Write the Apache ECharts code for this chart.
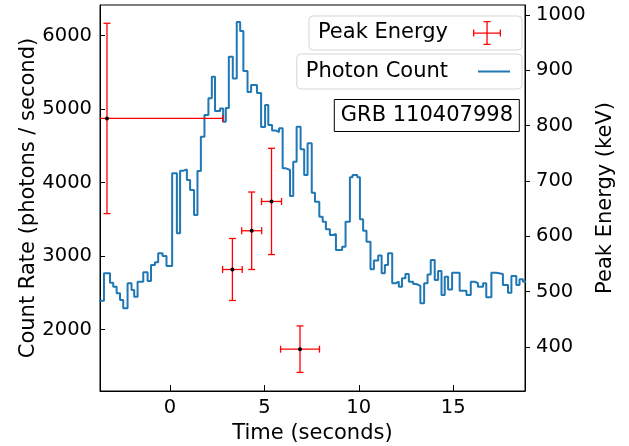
<!DOCTYPE html>
<html>
<head>
<meta charset="utf-8">
<script src="https://cdn.jsdelivr.net/npm/echarts@6/dist/echarts.min.js"></script>
<style>
html,body{margin:0;padding:0;background:#fff;}
#chart{width:629px;height:446px;}
</style>
</head>
<body>
<div id="chart"></div>
<script>
// Light curve (step) : start time of each step (s) and count rate (photons/s)
var stepStart = [-3.9, -3.49, -3.17, -3.00, -2.82, -2.64, -2.47, -2.24, -2.03, -1.89, -1.71, -1.41, -1.18, -1.00, -0.79, -0.62, -0.39, -0.18,
  0.12, 0.37, 0.54, 0.72, 0.90, 1.07, 1.28, 1.46, 1.64, 1.83, 2.04, 2.22, 2.39, 2.66, 2.82, 2.96, 3.12, 3.33, 3.54, 3.72, 3.89,
  4.11, 4.30, 4.61, 4.83, 5.04, 5.21, 5.41, 5.60, 5.78, 5.97, 6.15, 6.36, 6.53, 6.71, 6.92, 7.11, 7.29, 7.51, 7.68, 7.91,
  8.09, 8.26, 8.47, 8.65, 8.79, 9.12, 9.30, 9.53, 9.67, 9.92, 10.06, 10.23, 10.41, 10.62, 10.80, 11.03, 11.21, 11.38, 11.55,
  11.77, 11.95, 12.12, 12.29, 12.47, 12.65, 12.88, 13.05, 13.26, 13.46, 13.64, 13.81, 14.02, 14.20, 14.38, 14.55, 14.73,
  14.94, 15.34, 15.70, 15.93, 16.14, 16.31, 16.58, 16.75, 17.02, 17.28, 17.63, 17.90, 18.08, 18.34, 18.51, 18.69, 19.0];
var countRate = [2390, 2765, 2637, 2583, 2493, 2402, 2289, 2629, 2538, 2446, 2650, 2778, 2660, 2878, 2914, 3037, 3000, 2864,
  4125, 3309, 4161, 4177, 4034, 3898, 3558, 4157, 4623, 4918, 5146, 5439, 4973, 5007, 4827, 5014, 5712, 5415, 6184, 6061, 5517,
  5231, 5327, 5218, 4755, 5054, 4782, 4708, 4687, 4737, 4193, 4170, 3816, 4283, 4759, 4452, 4102, 4533, 3861, 3739, 3535,
  3467, 3363, 3286, 3299, 3082, 3127, 3467, 4071, 4102, 4071, 3499, 3344, 3195, 2819, 2939, 3007, 2765, 2878, 3037,
  2629, 2650, 2583, 2697, 2755, 2650, 2619, 2592, 2357, 2629, 2748, 2946, 2674, 2796, 2470, 2718, 2544,
  2773, 2528, 2470, 2650, 2629, 2583, 2629, 2438, 2773, 2755, 2606, 2501, 2728, 2606, 2683, 2650];

// Peak energy with errors
var peakTime = [-3.33, 3.31, 4.33, 5.38, 6.89];
var peakTimeErr = [6.13, 0.52, 0.53, 0.53, 1.03];
var peakEnergy = [813, 540, 610, 663, 396];
var peakEnergyErr = [172, 56, 70, 96, 42];

// Ticks
var timeTicks = [0, 5, 10, 15];
var rateTicks = [2000, 3000, 4000, 5000, 6000];
var energyTicks = [400, 500, 600, 700, 800, 900, 1000];

var FONT = 'DejaVu Sans';

var lineData = [];
for (var i = 0; i < countRate.length; i++) lineData.push([stepStart[i], countRate[i]]);
lineData.push([stepStart[countRate.length], countRate[countRate.length - 1]]);

var errData = [];
for (var j = 0; j < peakTime.length; j++) errData.push([peakTime[j], peakEnergy[j], peakTimeErr[j], peakEnergyErr[j]]);

function renderErr(params, api) {
  var t = api.value(0), e = api.value(1), dt = api.value(2), de = api.value(3);
  var c = api.coord([t, e]);
  var l = api.coord([t - dt, e]);
  var r = api.coord([t + dt, e]);
  var tp = api.coord([t, e + de]);
  var bt = api.coord([t, e - de]);
  var cs = params.coordSys;
  var x0 = cs.x, x1 = cs.x + cs.width;
  function cx(v) { return Math.max(x0, Math.min(x1, v)); }
  var cap = 3.5;
  var st = { stroke: '#ff0000', lineWidth: 1.3, fill: null };
  var ch = [];
  ch.push({ type: 'line', shape: { x1: cx(l[0]), y1: c[1], x2: cx(r[0]), y2: c[1] }, style: st });
  ch.push({ type: 'line', shape: { x1: c[0], y1: tp[1], x2: c[0], y2: bt[1] }, style: st });
  [tp[1], bt[1]].forEach(function (y) {
    ch.push({ type: 'line', shape: { x1: c[0] - cap, y1: y, x2: c[0] + cap, y2: y }, style: st });
  });
  [l[0], r[0]].forEach(function (x) {
    if (x >= x0 && x <= x1) ch.push({ type: 'line', shape: { x1: x, y1: c[1] - cap, x2: x, y2: c[1] + cap }, style: st });
  });
  ch.push({ type: 'circle', shape: { cx: c[0], cy: c[1], r: 2 }, style: { fill: '#000' } });
  return { type: 'group', children: ch };
}

function plain(v) { return String(v); }

var chart = echarts.init(document.getElementById('chart'), null, { renderer: 'canvas' });
var errIcon = 'path://M0,11.5H28V12.8H0Z M13.4,0H14.7V24H13.4Z M10.5,0H17.5V1.3H10.5Z M10.5,22.7H17.5V24H10.5Z M0,8.5H1.3V15.5H0Z M26.7,8.5H28V15.5H26.7Z';
var lineIcon = 'path://M0,0H32V2H0Z';
var legendCommon = {
  orient: 'vertical', align: 'right', right: 107,
  backgroundColor: 'rgba(255,255,255,0.8)', borderColor: 'rgba(204,204,204,0.8)', borderWidth: 1, borderRadius: 4,
  selectedMode: false
};
chart.setOption({
  animation: false,
  textStyle: { fontFamily: FONT },
  grid: { left: 100, top: 5, width: 425, height: 386, show: true, borderColor: '#000', borderWidth: 1,
          containLabel: false, outerBoundsMode: 'none' },
  title: {
    text: 'GRB 110407998', right: 109, top: 99, padding: [6, 7, 6, 7],
    borderColor: '#000', borderWidth: 1, backgroundColor: '#fff',
    textStyle: { fontFamily: FONT, fontSize: 21, fontWeight: 'normal', color: '#000' }
  },
  legend: [
    Object.assign({}, legendCommon, {
      top: 16, padding: [5, 21, 5, 9], itemWidth: 28, itemHeight: 24,
      textStyle: { fontFamily: FONT, fontSize: 21, color: '#000', padding: [0, 20, 0, 0] },
      data: [{ name: 'Peak Energy', icon: errIcon, itemStyle: { color: '#ff0000' } }]
    }),
    Object.assign({}, legendCommon, {
      top: 54, padding: [7, 12, 7, 9], itemWidth: 32, itemHeight: 2,
      textStyle: { fontFamily: FONT, fontSize: 21, color: '#000', padding: [0, 25, 0, 0] },
      data: [{ name: 'Photon Count', icon: lineIcon, itemStyle: { color: '#1f77b4' } }]
    })
  ],
  xAxis: {
    type: 'value', min: -3.7, max: 18.8,
    name: 'Time (seconds)', nameLocation: 'middle', nameGap: 30,
    nameTextStyle: { fontFamily: FONT, fontSize: 21, color: '#000' },
    axisLine: { show: true, onZero: false, lineStyle: { color: '#000', width: 1 } },
    axisTick: { show: true, inside: true, length: 6, customValues: timeTicks, lineStyle: { color: '#000' } },
    axisLabel: { customValues: timeTicks, formatter: plain, fontFamily: FONT, fontSize: 19.5, color: '#000', margin: 7 },
    splitLine: { show: false }
  },
  yAxis: [
    {
      type: 'value', position: 'left', min: 1163, max: 6415,
      name: 'Count Rate (photons / second)', nameLocation: 'middle', nameRotate: 90, nameGap: 61, nameMoveOverlap: false,
      nameTextStyle: { fontFamily: FONT, fontSize: 21, color: '#000' },
      axisLine: { show: true, onZero: false, lineStyle: { color: '#000', width: 1 } },
      axisTick: { show: true, inside: true, length: 5, customValues: rateTicks, lineStyle: { color: '#000' } },
      axisLabel: { customValues: rateTicks, formatter: plain, fontFamily: FONT, fontSize: 19.5, color: '#000', margin: 8 },
      splitLine: { show: false }
    },
    {
      type: 'value', position: 'right', min: 320.4, max: 1018,
      name: 'Peak Energy (keV)', nameLocation: 'middle', nameRotate: 90, nameGap: 70, nameMoveOverlap: false,
      nameTextStyle: { fontFamily: FONT, fontSize: 21, color: '#000' },
      axisLine: { show: true, onZero: false, lineStyle: { color: '#000', width: 1 } },
      axisTick: { show: true, inside: false, length: 5, customValues: energyTicks, lineStyle: { color: '#000' } },
      axisLabel: { customValues: energyTicks, formatter: plain, fontFamily: FONT, fontSize: 19.5, color: '#000', margin: 11 },
      splitLine: { show: false }
    }
  ],
  series: [
    {
      name: 'Photon Count', type: 'line', step: 'end', xAxisIndex: 0, yAxisIndex: 0,
      data: lineData, showSymbol: false, symbol: 'none', z: 2,
      lineStyle: { color: '#1f77b4', width: 2 }, itemStyle: { color: '#1f77b4' }
    },
    {
      name: 'Peak Energy', type: 'custom', xAxisIndex: 0, yAxisIndex: 1,
      data: errData, encode: { x: 0, y: 1 }, renderItem: renderErr, z: 5,
      itemStyle: { color: '#ff0000' }
    }
  ]
});
</script>
</body>
</html>
